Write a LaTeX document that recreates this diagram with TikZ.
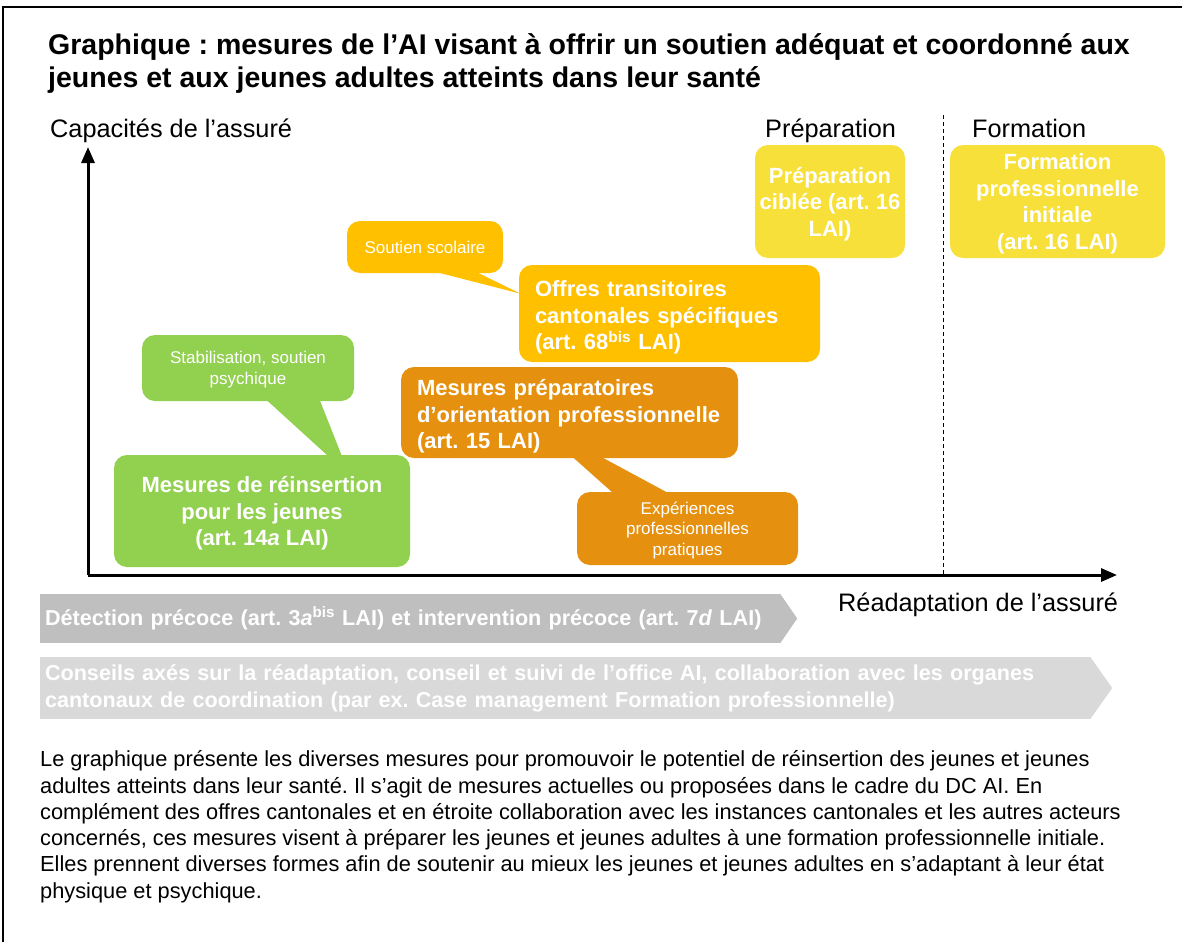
\documentclass[tikz,border=0pt]{standalone}
\usepackage{fontspec}
\setmainfont{Liberation Sans}
\usetikzlibrary{calc,arrows.meta}
\definecolor{aigreen}{HTML}{92D050}
\definecolor{aiyellow}{HTML}{F8E03A}
\definecolor{aigold}{HTML}{FFC000}
\definecolor{aiorange}{HTML}{E5910F}
\definecolor{aigrey}{HTML}{BFBFBF}
\definecolor{ailight}{HTML}{D9D9D9}
\frenchspacing
\begin{document}
\begin{tikzpicture}[x=1pt,y=-1pt,
  mbox/.style={rounded corners=13pt,text=white,inner sep=0pt,align=center,font=\fontsize{22}{26.5}\selectfont\bfseries},
  cbox/.style={mbox,text depth=0pt},
  lbox/.style={mbox,align=left,text height=24pt},
  small/.style={cbox,font=\fontsize{17}{20.5}\selectfont},
  band/.style={text=white,inner xsep=5pt,inner ysep=0pt,align=left,font=\fontsize{21.6}{27}\selectfont\bfseries},
  axe/.style={line width=3pt,-{Triangle[length=16pt,width=13pt]}},
  lbl/.style={anchor=base west,inner sep=0pt,font=\fontsize{25.3}{28}\selectfont}]
\useasboundingbox (0,0) rectangle (1182,942);
\draw[line width=2.5pt] (3,942) -- (3,7) -- (1182,7);
\node[anchor=west,inner sep=0pt,align=left,font=\fontsize{28.5}{33}\selectfont\bfseries] (title) at (48,64)
  {Graphique : mesures de l’AI visant à offrir un soutien adéquat et coordonné aux\\jeunes et aux jeunes adultes atteints dans leur santé};
\node[lbl] (ylbl) at (50,137) {Capacités de l’assuré};
\node[lbl] (phase1) at (765,137) {Préparation};
\node[lbl] (phase2) at (972,137) {Formation};
\node[lbl] (xlbl) at (838,611) {Réadaptation de l’assuré};
\coordinate (o) at (88,575);
\coordinate (ytop) at (88,147);
\coordinate (xend) at (1117,575);
\coordinate (dtop) at (943,115);
\coordinate (dbot) at (943,575);
\draw[dash pattern=on 4pt off 3pt,line width=0.9pt] (dtop) -- (dbot);
\draw[axe] (o) -- (ytop);
\draw[axe] (o) -- (xend);
\node[cbox,fill=aiyellow,minimum width=150,minimum height=113] (prep) at (830,201.5) {Préparation\\ciblée (art. 16\\LAI)};
\node[cbox,fill=aiyellow,minimum width=215,minimum height=113] (form) at (1057.5,201.5) {Formation\\professionnelle\\initiale\\(art. 16 LAI)};
\node[small,fill=aigold,minimum width=156,minimum height=52] (soutien) at (425,247) {Soutien scolaire};
\node[lbox,fill=aigold,minimum width=301,minimum height=97,text width=269] (offres) at (669.5,313.5)
  {Offres transitoires\\cantonales spécifiques\\(art. 68\textsuperscript{bis} LAI)};
\node[lbox,fill=aiorange,minimum width=337,minimum height=91,text width=305] (mprep) at (569.5,412.5)
  {Mesures préparatoires\\\mbox{d’orientation professionnelle}\\(art. 15 LAI)};
\node[small,fill=aiorange,minimum width=221,minimum height=73] (exper) at (687.5,528.5) {Expériences\\professionnelles\\pratiques};
\node[small,fill=aigreen,minimum width=212,minimum height=66] (stab) at (248,368) {Stabilisation, soutien\\psychique};
\node[cbox,fill=aigreen,minimum width=296,minimum height=112] (reins) at (262,511) {Mesures de réinsertion\\pour les jeunes\\(art. 14\textit{a} LAI)};
\fill[aigold] ($(soutien.south west)+(90,-1)$) -- ($(soutien.south west)+(130,-1)$) -- ($(offres.north west)+(2,29)$) -- cycle;
\fill[aiorange] ($(mprep.south west)+(172,-1)$) -- ($(mprep.south west)+(201,-1)$) -- ($(exper.north west)+(91,1)$) -- ($(exper.north west)+(36,1)$) -- cycle;
\fill[aigreen] ($(stab.south west)+(125,-1)$) -- ($(stab.south west)+(178,-1)$) -- ($(reins.north west)+(228,1)$) -- ($(reins.north west)+(214,1)$) -- cycle;
\node[band,fill=aigrey,minimum height=49,text width=730] (det) at (410,618.5)
  {Détection précoce (art. 3\textit{a}\textsuperscript{bis} LAI) et intervention précoce (art. 7\textit{d} LAI)};
\fill[aigrey] (det.north east) -- ($(det.east)+(17,0)$) -- (det.south east) -- cycle;
\node[band,fill=ailight,minimum height=62,text width=1040] (cons) at (565,688)
  {Conseils axés sur la réadaptation, conseil et suivi de l’office AI, collaboration avec les organes\\cantonaux de coordination (par ex. Case management Formation professionnelle)};
\fill[ailight] (cons.north east) -- ($(cons.east)+(22,0)$) -- (cons.south east) -- cycle;
\node[anchor=north west,inner sep=0pt,align=left,font=\fontsize{21.8}{26.3}\selectfont] (desc) at (40,750.5)
  {Le graphique présente les diverses mesures pour promouvoir le potentiel de réinsertion des jeunes et jeunes\\
   adultes atteints dans leur santé. Il s’agit de mesures actuelles ou proposées dans le cadre du DC AI. En\\
   complément des offres cantonales et en étroite collaboration avec les instances cantonales et les autres acteurs\\
   concernés, ces mesures visent à préparer les jeunes et jeunes adultes à une formation professionnelle initiale.\\
   Elles prennent diverses formes afin de soutenir au mieux les jeunes et jeunes adultes en s’adaptant à leur état\\
   physique et psychique.};
\end{tikzpicture}
\end{document}
